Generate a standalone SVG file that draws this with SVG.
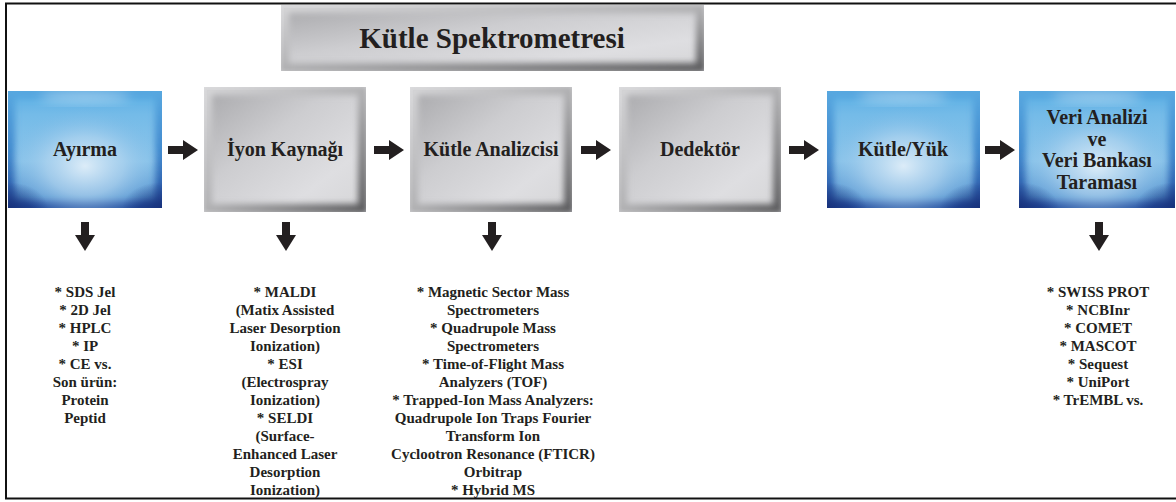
<svg xmlns="http://www.w3.org/2000/svg" xmlns:xlink="http://www.w3.org/1999/xlink" width="1176" height="502" viewBox="0 0 1176 502" font-family="'Liberation Serif', 'DejaVu Serif', serif">
<style>
  .lbl{font-weight:bold;fill:#231f20;text-anchor:middle;}
  .box{font-size:20px;}
  .title{font-size:29px;}
  .list{font-size:15px;}
  .arr{fill:#231f20;}
</style>
<defs>
  <linearGradient id="gFace" x1="0" y1="0" x2="1" y2="1">
    <stop offset="0" stop-color="#a9a9ac"/>
    <stop offset="0.4" stop-color="#cdcdd0"/>
    <stop offset="0.75" stop-color="#dedee1"/>
    <stop offset="1" stop-color="#d6d6d8"/>
  </linearGradient>
  <linearGradient id="gEdge" x1="0" y1="0" x2="1" y2="1">
    <stop offset="0" stop-color="#d6d6d8"/>
    <stop offset="0.5" stop-color="#b0b0b2"/>
    <stop offset="1" stop-color="#5c5c5e"/>
  </linearGradient>
  <linearGradient id="bBase" x1="0" y1="0" x2="0" y2="1">
    <stop offset="0" stop-color="#5aaee4"/>
    <stop offset="0.2" stop-color="#74bbe8"/>
    <stop offset="0.6" stop-color="#8cc5ea"/>
    <stop offset="1" stop-color="#4a86c8"/>
  </linearGradient>
  <radialGradient id="bGlow" cx="0.5" cy="0.64" r="0.5">
    <stop offset="0" stop-color="#dcecf8" stop-opacity="1"/>
    <stop offset="0.5" stop-color="#b0d4ef" stop-opacity="0.7"/>
    <stop offset="1" stop-color="#7ab8e6" stop-opacity="0"/>
  </radialGradient>
  <linearGradient id="bEdge" x1="0" y1="0" x2="0" y2="1">
    <stop offset="0" stop-color="#58a8e0"/>
    <stop offset="0.55" stop-color="#3f86cc"/>
    <stop offset="1" stop-color="#24489a"/>
  </linearGradient>
  <radialGradient id="bCorner" cx="0.5" cy="0.5" r="0.5">
    <stop offset="0" stop-color="#162f78" stop-opacity="0.9"/>
    <stop offset="1" stop-color="#162f78" stop-opacity="0"/>
  </radialGradient>
  <filter id="blur3" x="-10%" y="-10%" width="120%" height="120%">
    <feGaussianBlur stdDeviation="3"/>
  </filter>
  <filter id="blur6" x="-20%" y="-50%" width="140%" height="200%">
    <feGaussianBlur stdDeviation="6"/>
  </filter>
  <path id="arrowR" d="M0,-4 H15 V-10 L30,0 L15,10 V4 H0 Z"/>
  <path id="arrowD" d="M-4,0 V13 H-10 L0,29 L10,13 H4 V0 Z"/>
</defs>

<rect id="frame" x="6" y="3.5" width="1180" height="495" fill="none" stroke="#111" stroke-width="2"/>

<g id="title">
  <svg x="281" y="5" width="423" height="66">
    <rect width="423" height="66" fill="#e3e3e5"/>
    <rect x="3" y="3" width="417" height="60" fill="url(#gFace)"/>
    <rect x="3" y="3" width="417" height="60" fill="none" stroke="url(#gEdge)" stroke-width="10" filter="url(#blur3)"/>
  </svg>
  <text class="lbl title" x="492" y="48">Kütle Spektrometresi</text>
</g>

<g id="node-ayirma">
  <svg x="8" y="91" width="154" height="117">
    <rect width="154" height="117" fill="url(#bBase)"/>
    <rect width="154" height="117" fill="none" stroke="url(#bEdge)" stroke-width="14" filter="url(#blur3)"/>
    <rect width="154" height="117" fill="url(#bGlow)"/>
    <ellipse cx="0" cy="117" rx="40" ry="26" fill="url(#bCorner)"/>
    <ellipse cx="154" cy="117" rx="40" ry="26" fill="url(#bCorner)"/>
    <ellipse cx="77" cy="6" rx="45" ry="5" fill="#ffffff" opacity="0.45" filter="url(#blur6)"/>
  </svg>
  <text class="lbl box" x="85" y="156">Ayırma</text>
</g>

<g id="node-iyon">
  <svg x="204" y="87" width="162" height="125">
    <rect width="162" height="125" fill="#e3e3e5"/>
    <rect x="3" y="3" width="156" height="119" fill="url(#gFace)"/>
    <rect x="3" y="3" width="156" height="119" fill="none" stroke="url(#gEdge)" stroke-width="10" filter="url(#blur3)"/>
  </svg>
  <text class="lbl box" x="285" y="156">İyon Kaynağı</text>
</g>

<g id="node-analizci">
  <svg x="410" y="87" width="162" height="125">
    <rect width="162" height="125" fill="#e3e3e5"/>
    <rect x="3" y="3" width="156" height="119" fill="url(#gFace)"/>
    <rect x="3" y="3" width="156" height="119" fill="none" stroke="url(#gEdge)" stroke-width="10" filter="url(#blur3)"/>
  </svg>
  <text class="lbl box" x="491" y="156">Kütle Analizcisi</text>
</g>

<g id="node-dedektor">
  <svg x="619" y="87" width="162" height="125">
    <rect width="162" height="125" fill="#e3e3e5"/>
    <rect x="3" y="3" width="156" height="119" fill="url(#gFace)"/>
    <rect x="3" y="3" width="156" height="119" fill="none" stroke="url(#gEdge)" stroke-width="10" filter="url(#blur3)"/>
  </svg>
  <text class="lbl box" x="700" y="156">Dedektör</text>
</g>

<g id="node-kutleyuk">
  <svg x="827" y="91" width="153" height="117">
    <rect width="153" height="117" fill="url(#bBase)"/>
    <rect width="153" height="117" fill="none" stroke="url(#bEdge)" stroke-width="14" filter="url(#blur3)"/>
    <rect width="153" height="117" fill="url(#bGlow)"/>
    <ellipse cx="0" cy="117" rx="40" ry="26" fill="url(#bCorner)"/>
    <ellipse cx="153" cy="117" rx="40" ry="26" fill="url(#bCorner)"/>
    <ellipse cx="76" cy="6" rx="45" ry="5" fill="#ffffff" opacity="0.45" filter="url(#blur6)"/>
  </svg>
  <text class="lbl box" x="903" y="156">Kütle/Yük</text>
</g>

<g id="node-veri">
  <svg x="1019" y="91" width="156" height="117">
    <rect width="156" height="117" fill="url(#bBase)"/>
    <rect width="156" height="117" fill="none" stroke="url(#bEdge)" stroke-width="14" filter="url(#blur3)"/>
    <rect width="156" height="117" fill="url(#bGlow)"/>
    <ellipse cx="0" cy="117" rx="40" ry="26" fill="url(#bCorner)"/>
    <ellipse cx="156" cy="117" rx="40" ry="26" fill="url(#bCorner)"/>
    <ellipse cx="78" cy="6" rx="45" ry="5" fill="#ffffff" opacity="0.45" filter="url(#blur6)"/>
  </svg>
  <text class="lbl box" x="1097" y="124">Veri Analizi</text>
  <text class="lbl box" x="1097" y="145.5">ve</text>
  <text class="lbl box" x="1097" y="167">Veri Bankası</text>
  <text class="lbl box" x="1097" y="188.5">Taraması</text>
</g>

<g id="connectors" class="arr">
  <use href="#arrowR" x="168" y="150"/>
  <use href="#arrowR" x="374" y="150"/>
  <use href="#arrowR" x="581" y="150"/>
  <use href="#arrowR" x="789" y="150"/>
  <use href="#arrowR" x="985" y="150"/>
  <use href="#arrowD" x="85" y="222"/>
  <use href="#arrowD" x="286" y="222"/>
  <use href="#arrowD" x="492" y="222"/>
  <use href="#arrowD" x="1099" y="222"/>
</g>

<g id="list-ayirma">
  <text class="lbl list" x="85" y="297">* SDS Jel</text>
  <text class="lbl list" x="85" y="315">* 2D Jel</text>
  <text class="lbl list" x="85" y="333">* HPLC</text>
  <text class="lbl list" x="85" y="351">* IP</text>
  <text class="lbl list" x="85" y="369">* CE vs.</text>
  <text class="lbl list" x="85" y="387">Son ürün:</text>
  <text class="lbl list" x="85" y="405">Protein</text>
  <text class="lbl list" x="85" y="423">Peptid</text>
</g>

<g id="list-iyon">
  <text class="lbl list" x="285" y="297">* MALDI</text>
  <text class="lbl list" x="285" y="315">(Matix Assisted</text>
  <text class="lbl list" x="285" y="333">Laser Desorption</text>
  <text class="lbl list" x="285" y="351">Ionization)</text>
  <text class="lbl list" x="285" y="369">* ESI</text>
  <text class="lbl list" x="285" y="387">(Electrospray</text>
  <text class="lbl list" x="285" y="405">Ionization)</text>
  <text class="lbl list" x="285" y="423">* SELDI</text>
  <text class="lbl list" x="285" y="441">(Surface-</text>
  <text class="lbl list" x="285" y="459">Enhanced Laser</text>
  <text class="lbl list" x="285" y="477">Desorption</text>
  <text class="lbl list" x="285" y="495">Ionization)</text>
</g>

<g id="list-analizci">
  <text class="lbl list" x="493" y="297">* Magnetic Sector Mass</text>
  <text class="lbl list" x="493" y="315">Spectrometers</text>
  <text class="lbl list" x="493" y="333">* Quadrupole Mass</text>
  <text class="lbl list" x="493" y="351">Spectrometers</text>
  <text class="lbl list" x="493" y="369">* Time-of-Flight Mass</text>
  <text class="lbl list" x="493" y="387">Analyzers (TOF)</text>
  <text class="lbl list" x="493" y="405">* Trapped-Ion Mass Analyzers:</text>
  <text class="lbl list" x="493" y="423">Quadrupole Ion Traps Fourier</text>
  <text class="lbl list" x="493" y="441">Transform Ion</text>
  <text class="lbl list" x="493" y="459">Cyclootron Resonance (FTICR)</text>
  <text class="lbl list" x="493" y="477">Orbitrap</text>
  <text class="lbl list" x="493" y="495">* Hybrid MS</text>
</g>

<g id="list-veri">
  <text class="lbl list" x="1098" y="297">* SWISS PROT</text>
  <text class="lbl list" x="1098" y="315">* NCBInr</text>
  <text class="lbl list" x="1098" y="333">* COMET</text>
  <text class="lbl list" x="1098" y="351">* MASCOT</text>
  <text class="lbl list" x="1098" y="369">* Sequest</text>
  <text class="lbl list" x="1098" y="387">* UniPort</text>
  <text class="lbl list" x="1098" y="405">* TrEMBL vs.</text>
</g>
</svg>
